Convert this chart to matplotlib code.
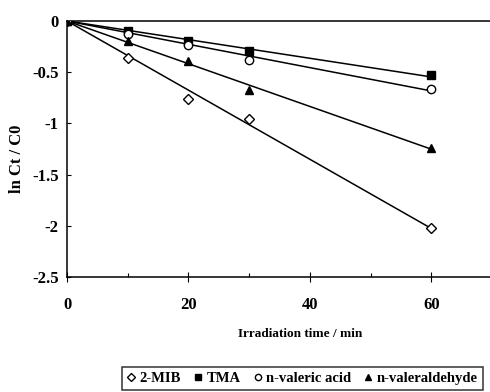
import numpy as np
import matplotlib
matplotlib.use("Agg")
import matplotlib.pyplot as plt
from matplotlib.lines import Line2D
from matplotlib.ticker import FuncFormatter

# ── Data ─────────────────────────────────────────────────────────────────────
time_min = [0, 10, 20, 30, 60]
mib = [0, -0.36, -0.76, -0.96, -2.02]          # 2-MIB
tma = [0, -0.10, -0.20, -0.29, -0.53]          # TMA
valeric = [0, -0.13, -0.23, -0.38, -0.66]      # n-valeric acid
valeraldehyde = [0, -0.20, -0.39, -0.67, -1.24]  # n-valeraldehyde

series_labels = ["2-MIB", "TMA", "n-valeric acid", "n-valeraldehyde"]
series_values = [mib, tma, valeric, valeraldehyde]
x_ticks = [0, 20, 40, 60]
y_ticks = [0, -0.5, -1, -1.5, -2, -2.5]

plt.rcParams['font.family'] = ['Liberation Serif', 'DejaVu Serif']
plt.rcParams['font.weight'] = 'bold'

styles = [
    dict(marker='D', mfc='white', mec='black', ms=5, mew=1.0),
    dict(marker='s', mfc='black', mec='black', ms=5.5, mew=1.0),
    dict(marker='o', mfc='white', mec='black', ms=6, mew=1.0),
    dict(marker='^', mfc='black', mec='black', ms=6, mew=1.0),
]

fig = plt.figure(figsize=(4.9, 3.92), dpi=100)
ax = fig.add_axes([67 / 490, 1 - 277 / 392, 425 / 490, 256 / 392])

x = np.array(time_min, dtype=float)
for vals, st in zip(series_values, styles):
    y = np.array(vals, dtype=float)
    # linear trendline through the origin
    slope = np.sum(x * y) / np.sum(x * x)
    ax.plot([0, x.max()], [0, slope * x.max()], color='black', lw=1.1, zorder=2)
    ax.plot(x, y, ls='none', zorder=3, **st)

ax.set_xlim(0, 70)
ax.set_ylim(-2.5, 0)
ax.set_xticks(x_ticks)
ax.set_xticks([10, 30, 50], minor=True)
ax.set_yticks(y_ticks)
ax.yaxis.set_major_formatter(FuncFormatter(lambda v, p: f"{v:g}"))

ax.spines['right'].set_visible(False)
for s in ('left', 'bottom', 'top'):
    ax.spines[s].set_linewidth(1.1)

ax.tick_params(axis='x', which='major', direction='inout', length=7, width=0.8,
               pad=11, labelsize=12)
ax.tick_params(axis='x', which='minor', direction='in', length=3, width=0.8)
ax.tick_params(axis='y', which='major', direction='in', length=3, width=0.8,
               pad=6, labelsize=12)

ax.set_xlabel('Irradiation time / min', fontsize=9.5, fontweight='bold')
ax.xaxis.set_label_coords(0.548, -0.2)
ax.set_ylabel('ln Ct / C0', fontsize=12, fontweight='bold')
ax.yaxis.set_label_coords(-0.098, 0.46)

handles = [Line2D([0], [0], ls='none', **st) for st in styles]
for h in handles:
    h.set_markersize(h.get_markersize() * 0.75)
leg = fig.legend(handles, series_labels, loc='center', bbox_to_anchor=(0.617, 0.035),
                 ncol=4, frameon=True, fancybox=False, edgecolor='black',
                 handlelength=0.6, handletextpad=0.3, columnspacing=0.85,
                 borderpad=0.35, prop={'size': 10.5, 'weight': 'bold'})
leg.get_frame().set_linewidth(1.1)

fig.savefig('out.png', dpi=100)
